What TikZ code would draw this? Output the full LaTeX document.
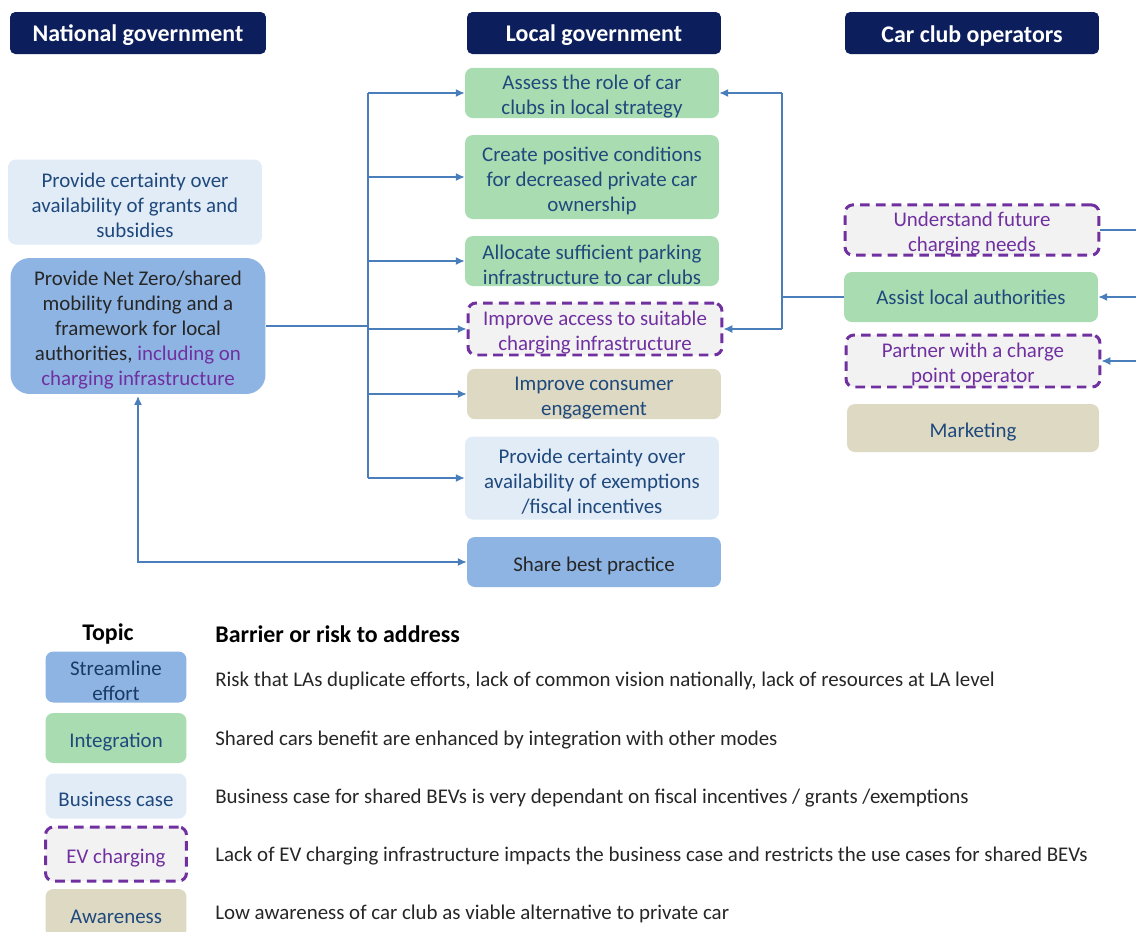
\documentclass[tikz,border=0pt]{standalone}
\usepackage{fontspec}
\setmainfont{Carlito}
\usetikzlibrary{arrows.meta}
\definecolor{navy}{RGB}{12,30,92}
\definecolor{grn}{RGB}{169,220,177}
\definecolor{lblue}{RGB}{226,236,247}
\definecolor{mblue}{RGB}{142,180,227}
\definecolor{tan}{RGB}{221,217,195}
\definecolor{evgrey}{RGB}{242,242,242}
\definecolor{purp}{RGB}{112,48,160}
\definecolor{txtblue}{RGB}{31,73,125}
\definecolor{linkblue}{RGB}{74,126,187}
\tikzset{
  box/.style={rounded corners=4.5pt, align=center, inner sep=2pt, minimum width=5.08cm, text=txtblue},
  lift/.style={execute at begin node={\rule{0pt}{\dimexpr 12.4pt+#1\baselineskip\relax}}},
  two/.style={lift=1, inner ysep=0pt},
  hdr/.style={box, fill=navy, text=white, font=\fontsize{13.6}{16}\selectfont\bfseries, rounded corners=3pt, minimum height=0.84cm},
  integ/.style={box, fill=grn},
  biz/.style={box, fill=lblue},
  strm/.style={box, fill=mblue, text=black!85},
  aware/.style={box, fill=tan},
  evbox/.style={box, fill=evgrey, draw=purp, line width=1.7pt, dash pattern=on 5.5pt off 3.5pt, text=purp},
  link/.style={draw=linkblue, line width=0.7pt},
  arr/.style={link, -{Latex[length=5pt,width=4.5pt]}},
  lgbox/.style={minimum width=2.82cm},
  lgtxt/.style={anchor=west, text=black!85, inner sep=0pt},
  lghead/.style={font=\fontsize{13.6}{16}\selectfont\bfseries, inner sep=0pt}
}
\begin{document}
\begin{tikzpicture}[x=0.02cm, y=-0.02cm, font=\fontsize{11.9}{14.2}\selectfont]
  \useasboundingbox[fill=white] (0,0) rectangle (1136,931);
  % headers
  \node[hdr, lift=0, minimum width=5.12cm] (hNat) at (138,33) {National government};
  \node[hdr, lift=0] (hLoc) at (594,33) {Local government};
  \node[hdr, lift=0] (hCar) at (972,33) {Car club operators};
  % national government
  \node[biz, lift=2, minimum height=1.7cm] (grants) at (135,202) {Provide certainty over\\availability of grants and\\subsidies};
  \node[strm, lift=4, minimum width=5.1cm, minimum height=2.72cm, rounded corners=11pt] (netzero) at (138,326) {Provide Net Zero/shared\\mobility funding and a\\framework for local\\authorities, \textcolor{purp}{including on}\\\textcolor{purp}{charging infrastructure}};
  % local government
  \node[integ, two, minimum height=0.98cm] (assess) at (592,93) {Assess the role of car\\clubs in local strategy};
  \node[integ, lift=2, minimum height=1.68cm] (create) at (592,177) {Create positive conditions\\for decreased private car\\ownership};
  \node[integ, two, minimum height=1.0cm] (alloc) at (592,261) {Allocate sufficient parking\\infrastructure to car clubs};
  \node[evbox, two, minimum height=1.04cm] (access) at (595,329) {Improve access to suitable\\charging infrastructure};
  \node[aware, two, minimum height=0.98cm] (consumer) at (594,394) {Improve consumer\\engagement};
  \node[biz, lift=2, minimum height=1.66cm] (exempt) at (592,478) {Provide certainty over\\availability of exemptions\\/fiscal incentives};
  \node[strm, lift=0, minimum height=1.0cm] (share) at (594,562) {Share best practice};
  % car club operators
  \node[evbox, two, minimum height=1.0cm] (future) at (972,230) {Understand future\\charging needs};
  \node[integ, minimum height=1.0cm] (assist) at (971,297) {Assist local authorities};
  \node[evbox, two, minimum height=1.04cm] (partner) at (973,361) {Partner with a charge\\point operator};
  \node[aware, lift=0, minimum height=0.96cm, minimum width=5.04cm] (market) at (973,428) {Marketing};
  % connectors
  \coordinate (trkTop) at (368,93); \coordinate (trkBot) at (368,478);
  \coordinate (rtrk) at (782,93); \coordinate (edge) at (1136,0);
  \draw[link] (netzero.east) -- (netzero.east -| trkTop);
  \draw[link] (trkTop) -- (trkBot);
  \foreach \t in {assess,create,alloc,access,consumer,exempt}
    \draw[arr] (trkTop |- \t.west) -- (\t.west);
  \draw[link, {Latex[length=5pt,width=4.5pt]}-{Latex[length=5pt,width=4.5pt]}, shorten <=1pt] (netzero.south) |- (share.west);
  \draw[link] (assist.west) -- (assist.west -| rtrk);
  \draw[link] (rtrk) -- (rtrk |- access.east);
  \draw[arr] (rtrk) -- (assess.east);
  \draw[arr] (rtrk |- access.east) -- (access.east);
  \draw[link] (future.east) -- (future.east -| edge);
  \draw[arr] (assist.east -| edge) -- (assist.east);
  \draw[arr] (partner.east -| edge) -- (partner.east);
  % legend
  \node[lghead] (lgTopic) at (108,634) {Topic};
  \node[lghead, anchor=west] (lgHead) at (215,634) {Barrier or risk to address};
  \node[strm, lgbox, two, minimum height=1.02cm, text=txtblue!80!black] (lgStrm) at (116,677) {Streamline\\effort};
  \node[integ, lgbox, lift=0, minimum height=1.0cm] (lgInteg) at (116,738) {Integration};
  \node[biz, lgbox, lift=0, minimum height=0.9cm] (lgBiz) at (116,796) {Business case};
  \node[evbox, lgbox, lift=0, minimum height=1.08cm] (lgEv) at (116,854) {EV charging};
  \node[aware, lgbox, lift=0, minimum height=0.96cm] (lgAware) at (116,913) {Awareness};
  \node[lgtxt] (txStrm) at (215,681) {Risk that LAs duplicate efforts, lack of common vision nationally, lack of resources at LA level};
  \node[lgtxt] (txInteg) at (215,740) {Shared cars benefit are enhanced by integration with other modes};
  \node[lgtxt] (txBiz) at (215,798) {Business case for shared BEVs is very dependant on fiscal incentives / grants /exemptions};
  \node[lgtxt] (txEv) at (215,856) {Lack of EV charging infrastructure impacts the business case and restricts the use cases for shared BEVs};
  \node[lgtxt] (txAware) at (215,914) {Low awareness of car club as viable alternative to private car};
\end{tikzpicture}
\end{document}
